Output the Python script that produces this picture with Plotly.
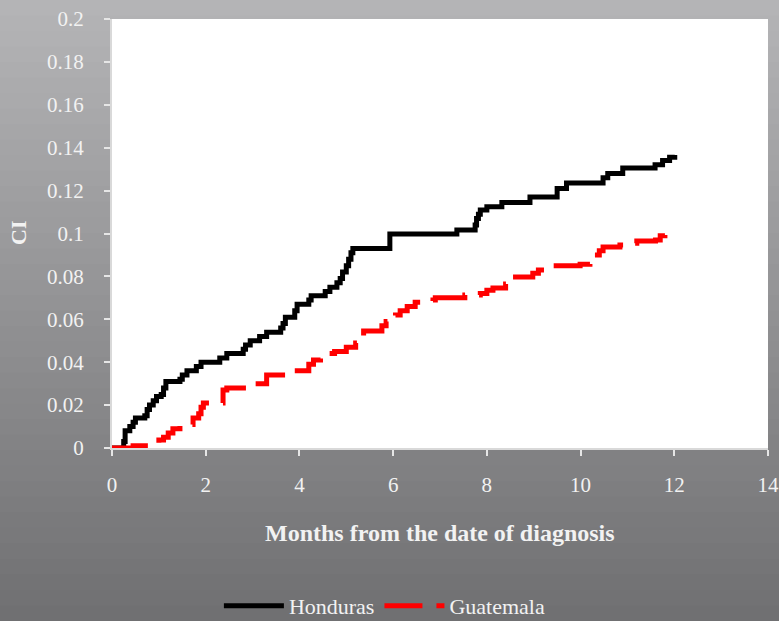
import plotly.graph_objects as go

# Honduras cumulative incidence (step function)
hon_months = [0, 0.25, 0.28, 0.38, 0.45, 0.5, 0.7, 0.75, 0.8, 0.88, 0.95, 1.05, 1.1, 1.15,
              1.45, 1.5, 1.6, 1.8, 1.9, 2.3, 2.45, 2.8, 2.85, 2.95, 3.15, 3.3, 3.6, 3.65,
              3.7, 3.9, 3.95, 4.2, 4.25, 4.55, 4.65, 4.8, 4.87, 4.92, 5.0, 5.05, 5.1, 5.14,
              5.93, 7.36, 7.75, 7.78, 7.82, 7.86, 8.0, 8.32, 8.92, 9.5, 9.7, 10.48, 10.58,
              10.9, 11.59, 11.75, 11.9, 12.01]
hon_ci = [0, 0.003, 0.008, 0.010, 0.012, 0.014, 0.015, 0.018, 0.020, 0.022, 0.024, 0.025, 0.028, 0.031,
          0.032, 0.034, 0.036, 0.038, 0.040, 0.042, 0.044, 0.046, 0.048, 0.050, 0.052, 0.054, 0.056, 0.058,
          0.061, 0.064, 0.067, 0.069, 0.071, 0.073, 0.075, 0.077, 0.079, 0.082, 0.085, 0.088, 0.091, 0.093,
          0.0998, 0.1016, 0.104, 0.107, 0.109, 0.111, 0.1125, 0.1144, 0.117, 0.121, 0.1235, 0.126, 0.128,
          0.1305, 0.132, 0.134, 0.1355, 0.1366]

# Guatemala cumulative incidence (step function)
gua_months = [0, 0.45, 1.0, 1.1, 1.2, 1.3, 1.45, 1.73, 1.85, 1.9, 1.95, 2.37, 2.45, 3.0, 3.3,
              3.85, 4.2, 4.3, 4.45, 4.6, 4.75, 5.0, 5.2, 5.3, 5.37, 5.76, 5.85, 5.93, 6.05,
              6.15, 6.3, 6.47, 6.85, 6.9, 7.53, 7.86, 8.0, 8.13, 8.4, 8.45, 8.55, 8.98, 9.1,
              9.3, 9.99, 10.2, 10.26, 10.4, 10.48, 10.84, 11.0, 11.2, 11.6, 11.7, 11.8]
gua_ci = [0, 0.001, 0.0037, 0.005, 0.007, 0.009, 0.011, 0.014, 0.016, 0.019, 0.021, 0.027, 0.028, 0.030, 0.034,
          0.036, 0.039, 0.041, 0.043, 0.044, 0.045, 0.047, 0.049, 0.050, 0.0545, 0.057, 0.059, 0.060, 0.062,
          0.064, 0.066, 0.068, 0.069, 0.070, 0.0713, 0.072, 0.0735, 0.0746, 0.0765, 0.0775, 0.0797, 0.0815, 0.083,
          0.085, 0.0857, 0.088, 0.090, 0.092, 0.0937, 0.0946, 0.0955, 0.0965, 0.097, 0.099, 0.100]

x_ticks = [0, 2, 4, 6, 8, 10, 12, 14]
y_ticks = [0, 0.02, 0.04, 0.06, 0.08, 0.1, 0.12, 0.14, 0.16, 0.18, 0.2]
y_labels = ["0", "0.02", "0.04", "0.06", "0.08", "0.1", "0.12", "0.14", "0.16", "0.18", "0.2"]

FONT = "Liberation Serif, DejaVu Serif, serif"
TXT = "#f2f2f2"

fig = go.Figure()
fig.add_trace(go.Scatter(x=hon_months, y=hon_ci, mode="lines", name="Honduras",
                         line=dict(color="black", width=5, shape="hv")))
fig.add_trace(go.Scatter(x=gua_months, y=gua_ci, mode="lines", name="Guatemala",
                         line=dict(color="#ff0000", width=5, shape="hv", dash="38px,14px")))

# background vertical gradient
W, H = 779, 621
l, r, t, b = 112, 11, 19, 173
pw, ph = W - l - r, H - t - b
n = 40
top = (180, 180, 182)
bot = (112, 112, 114)
shapes = []
for i in range(n):
    f = i / (n - 1)
    c = tuple(int(round(top[k] + (bot[k] - top[k]) * f)) for k in range(3))
    y0_px = H * i / n
    y1_px = H * (i + 1) / n + 1
    shapes.append(dict(type="rect", xref="paper", yref="paper", layer="below",
                       x0=(-2 - l) / pw, x1=(W + 2 - l) / pw,
                       y0=(H - b - y1_px) / ph, y1=(H - b - y0_px + (2 if i == 0 else 0)) / ph,
                       fillcolor="rgb(%d,%d,%d)" % c, line=dict(width=0)))
# white plot area
shapes.append(dict(type="rect", xref="paper", yref="paper", layer="below",
                   x0=0, x1=1, y0=0, y1=1, fillcolor="white", line=dict(width=0)))

fig.update_layout(
    width=W, height=H,
    margin=dict(l=l, r=r, t=t, b=b, autoexpand=False),
    paper_bgcolor="rgb(146,146,148)",
    plot_bgcolor="rgba(0,0,0,0)",
    shapes=shapes,
    font=dict(family=FONT, color=TXT, size=20),
    showlegend=True,
    legend=dict(orientation="h", x=0.416, xanchor="center", y=-0.368, yanchor="middle",
                font=dict(family=FONT, color=TXT, size=22), bgcolor="rgba(0,0,0,0)",
                itemwidth=60),
    xaxis=dict(range=[0, 14], tickvals=x_ticks, showgrid=False, zeroline=False, automargin=False,
               showline=True, linecolor="#d9d9d9", linewidth=2,
               ticks="outside", ticklen=6, tickcolor="#e6e6e6", tickwidth=2,
               ticklabelstandoff=11, tickfont=dict(family=FONT, color=TXT, size=21)),
    yaxis=dict(range=[0, 0.2], tickvals=y_ticks, ticktext=y_labels, showgrid=False, zeroline=False,
               automargin=False,
               showline=True, linecolor="#d9d9d9", linewidth=2,
               ticks="outside", ticklen=6, tickcolor="#e6e6e6", tickwidth=2,
               ticklabelstandoff=16, tickfont=dict(family=FONT, color=TXT, size=21)),
    annotations=[
        dict(text="<b>Months from the date of diagnosis</b>", xref="paper", yref="paper",
             x=(440 - l) / pw, y=(448 - 533) / ph,
             xanchor="center", yanchor="middle", showarrow=False,
             font=dict(family=FONT, color=TXT, size=24)),
        dict(text="<b>CI</b>", xref="paper", yref="paper", textangle=-90,
             x=(18 - l) / pw, y=(448 - 233) / ph, xanchor="center", yanchor="middle",
             showarrow=False, font=dict(family=FONT, color=TXT, size=22)),
    ],
)

fig.write_html("out.html", config={"displayModeBar": False},
               post_script="document.body.style.margin='0';document.body.style.padding='0';"
                           "document.body.style.overflow='hidden';")
